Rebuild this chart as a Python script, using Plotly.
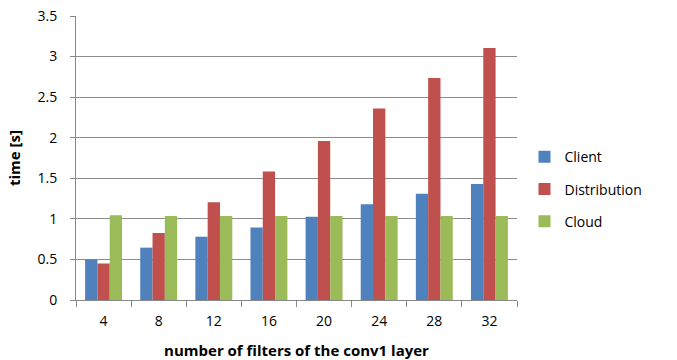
import plotly.graph_objects as go

categories = ["4", "8", "12", "16", "20", "24", "28", "32"]
client = [0.50, 0.645, 0.78, 0.895, 1.025, 1.18, 1.31, 1.43]
distribution = [0.45, 0.825, 1.205, 1.585, 1.96, 2.36, 2.735, 3.105]
cloud = [1.045, 1.035, 1.035, 1.035, 1.035, 1.035, 1.035, 1.035]

font = "Open Sans, Liberation Sans, sans-serif"
fig = go.Figure()
for name, vals, col in [("Client", client, "#4F81BD"),
                        ("Distribution", distribution, "#C0504D"),
                        ("Cloud", cloud, "#9BBB59")]:
    fig.add_trace(go.Bar(x=categories, y=vals, name=name, marker_color=col,
                         marker_line_width=0, legendgroup=name))

fig.update_layout(
    width=677, height=360,
    margin=dict(l=76, r=160, t=16, b=60),
    plot_bgcolor="white", paper_bgcolor="white",
    barmode="group", bargap=0.33, bargroupgap=0,
    font=dict(family=font, size=14, color="black"),
    legend=dict(x=1.017, y=0.39, xanchor="left", yanchor="middle",
                font=dict(size=14), itemwidth=30, traceorder="grouped",
                tracegroupgap=11),
    showlegend=True,
)
fig.update_xaxes(
    type="category", showline=True, linecolor="#888888", linewidth=1,
    ticks="outside", tickson="boundaries", ticklen=6, tickcolor="#888888",
    automargin=False, ticklabelstandoff=8,
    title=dict(text="<b>number of filters of the conv1 layer</b>", standoff=17,
               font=dict(size=15)),
)
fig.update_yaxes(
    range=[0, 3.5], dtick=0.5, showline=True, linecolor="#888888", linewidth=1,
    showgrid=True, gridcolor="#8c8c8c", gridwidth=1.2, automargin=False,
    ticks="outside", ticklen=5, tickcolor="#888888", zeroline=False,
    ticklabelstandoff=10,
    title=dict(text="<b>time [s]</b>", standoff=13, font=dict(size=15)),
)
fig.write_html("out.html", config={"displayModeBar": False},
               post_script="document.body.style.margin='0';document.body.style.overflow='hidden';")
